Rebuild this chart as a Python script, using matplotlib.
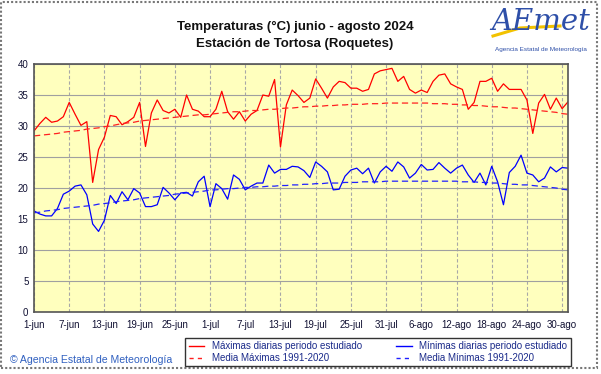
import matplotlib
matplotlib.use('Agg')
import matplotlib.pyplot as plt
import numpy as np
from matplotlib.lines import Line2D
from matplotlib.patches import Rectangle

plt.rcParams['font.family'] = ['Liberation Sans', 'DejaVu Sans']

# daily values 1-jun .. 31-ago 2024
tmax = [29.2, 30.4, 31.4, 30.6, 30.8, 31.5, 33.8, 31.9, 30.1, 30.7,
        20.9, 26.2, 28.2, 31.7, 31.5, 30.2, 30.7, 31.4, 33.8, 26.7,
        32.1, 34.2, 32.5, 32.1, 32.7, 31.4, 35.0, 32.7, 32.4, 31.5,
        31.5, 32.7, 35.6, 32.3, 31.1, 32.3, 30.8, 31.9, 32.5, 35.0,
        34.8, 37.5, 26.6, 33.4, 35.8, 34.9, 33.8, 34.5, 37.6, 36.1,
        34.5, 36.3, 37.2, 37.0, 36.1, 36.1, 35.6, 35.9, 38.4, 38.9,
        39.1, 39.3, 37.2, 38.0, 35.9, 35.3, 35.8, 35.4, 37.2, 38.2,
        38.4, 36.8, 36.3, 35.9, 32.7, 33.8, 37.2, 37.2, 37.7, 35.6,
        36.8, 35.9, 35.9, 35.9, 34.2, 28.8, 33.7, 35.1, 32.7, 34.5,
        32.8, 33.9]
tmin = [16.3, 15.8, 15.5, 15.5, 16.7, 19.0, 19.5, 20.3, 20.5, 18.9,
        14.2, 13.0, 14.8, 18.8, 17.5, 19.4, 18.1, 19.9, 19.2, 17.0,
        17.0, 17.3, 20.1, 19.2, 18.1, 19.2, 19.3, 18.7, 21.0, 21.9,
        17.0, 20.7, 19.9, 18.2, 22.1, 21.4, 19.7, 20.3, 20.8, 20.8,
        23.7, 22.4, 23.0, 23.0, 23.5, 23.4, 22.8, 21.7, 24.2, 23.5,
        22.6, 19.7, 19.8, 21.9, 22.9, 23.2, 22.3, 23.2, 20.8, 22.6,
        23.5, 22.7, 24.2, 23.4, 21.6, 22.4, 23.8, 22.9, 23.0, 24.1,
        23.2, 22.4, 23.2, 23.7, 22.1, 20.9, 22.4, 20.5, 23.5, 21.0,
        17.3, 22.5, 23.5, 25.3, 22.4, 22.1, 21.0, 21.6, 23.4, 22.6,
        23.3, 23.2]
# normals 1991-2020
nmax = [28.4, 28.5, 28.6, 28.7, 28.8, 29.0, 29.1, 29.2, 29.3, 29.5,
        29.6, 29.7, 29.9, 30.0, 30.2, 30.4, 30.5, 30.6, 30.8, 30.9,
        31.0, 31.1, 31.2, 31.3, 31.4, 31.5, 31.6, 31.7, 31.8, 31.8,
        31.9, 32.0, 32.1, 32.2, 32.3, 32.3, 32.4, 32.5, 32.5, 32.6,
        32.7, 32.7, 32.8, 32.9, 32.9, 33.0, 33.1, 33.1, 33.2, 33.2,
        33.3, 33.3, 33.4, 33.4, 33.5, 33.5, 33.5, 33.6, 33.6, 33.6,
        33.7, 33.7, 33.7, 33.7, 33.7, 33.7, 33.7, 33.7, 33.6, 33.6,
        33.6, 33.5, 33.5, 33.4, 33.4, 33.3, 33.3, 33.2, 33.1, 33.1,
        33.0, 32.9, 32.9, 32.8, 32.7, 32.6, 32.5, 32.4, 32.3, 32.2,
        32.0, 31.9]
nmin = [16.0, 16.1, 16.3, 16.4, 16.5, 16.7, 16.8, 16.9, 17.0, 17.1,
        17.2, 17.4, 17.5, 17.6, 17.8, 17.9, 18.0, 18.1, 18.3, 18.4,
        18.5, 18.6, 18.7, 18.8, 19.0, 19.1, 19.2, 19.3, 19.4, 19.5,
        19.7, 19.7, 19.8, 19.9, 19.9, 20.0, 20.1, 20.1, 20.2, 20.2,
        20.3, 20.3, 20.4, 20.4, 20.5, 20.5, 20.6, 20.6, 20.7, 20.7,
        20.8, 20.8, 20.8, 20.9, 20.9, 20.9, 21.0, 21.0, 21.0, 21.0,
        21.1, 21.1, 21.1, 21.1, 21.1, 21.1, 21.1, 21.1, 21.1, 21.1,
        21.1, 21.1, 21.1, 21.0, 21.0, 21.0, 20.9, 20.9, 20.8, 20.8,
        20.7, 20.6, 20.6, 20.5, 20.5, 20.4, 20.3, 20.2, 20.1, 20.0,
        19.8, 19.7]
xlabels = ['1-jun', '7-jun', '13-jun', '19-jun', '25-jun', '1-jul', '7-jul', '13-jul',
           '19-jul', '25-jul', '31-jul', '6-ago', '12-ago', '18-ago', '24-ago', '30-ago']

days = np.arange(len(tmax))

fig = plt.figure(figsize=(6.01, 3.74), dpi=100)
ax = fig.add_axes([34/601, 1-312/374, 534/601, 248/374])
ax.set_facecolor('#FFFFBE')

ax.plot(days, tmax, color='#FF0000', lw=0.9)
ax.plot(days, tmin, color='#0000FF', lw=0.9)
ax.plot(days, nmax, color='#FF2020', lw=0.9, ls=(0, (5, 3)))
ax.plot(days, nmin, color='#2020FF', lw=0.9, ls=(0, (5, 3)))

ax.set_xlim(0, len(tmax) - 1)
ax.set_ylim(0, 40)
ax.set_yticks(np.arange(0, 41, 5))
ax.set_xticks(np.arange(0, len(tmax), 6))
ax.set_xticklabels(xlabels)
ax.tick_params(length=0, labelsize=7, pad=6, colors='#111133')
ax.tick_params(axis='y', pad=4)
ax.xaxis.grid(True, color='#A8A8A8', ls=(0, (3, 2)), lw=0.8)
ax.yaxis.grid(True, color='#A0A0A0', ls='-', lw=0.8)
ax.set_axisbelow(True)
for s in ax.spines.values():
    s.set_color('#555555')
    s.set_linewidth(1.2)

# titles
fig.text(295/601, 1-27/374, 'Temperaturas (°C) junio - agosto 2024', ha='center', va='center',
         fontsize=9.5, fontweight='bold', color='#111111')
fig.text(295/601, 1-44/374, 'Estación de Tortosa (Roquetes)', ha='center', va='center',
         fontsize=9.5, fontweight='bold', color='#111111')

# aemet logo (rough)
fig.lines.append(Line2D([493/601, 520/601, 560/601], [1-36/374, 1-28/374, 1-26/374],
                        transform=fig.transFigure, color='#F2C200', lw=2.2))
fig.text(541/601, 1-22/374, 'AEmet', ha='center', va='center', fontsize=21,
         style='italic', color='#2E4FA8', family='DejaVu Serif')
fig.text(541/601, 1-49/374, 'Agencia Estatal de Meteorología', ha='center', va='center',
         fontsize=4.6, color='#2E4FA8')

fig.text(10/601, 1-360/374, '© Agencia Estatal de Meteorología', ha='left', va='center',
         fontsize=7.6, color='#3060C0')

# legend
handles = [Line2D([], [], color='#FF0000', lw=1),
           Line2D([], [], color='#FF2020', lw=1, ls=(0, (3, 3))),
           Line2D([], [], color='#0000FF', lw=1),
           Line2D([], [], color='#2020FF', lw=1, ls=(0, (3, 3)))]
names = ['Máximas diarias periodo estudiado', 'Media Máximas 1991-2020',
         'Mínimas diarias periodo estudiado', 'Media Mínimas 1991-2020']
leg = fig.legend(handles, names, ncol=2, loc='center', bbox_to_anchor=(378/601, 1-352/374),
                 fontsize=7, frameon=True, fancybox=False, handlelength=1.6,
                 handletextpad=0.8, columnspacing=3.5, labelspacing=0.2, borderpad=0.35)
leg.get_frame().set_edgecolor('#000000')
leg.get_frame().set_linewidth(1)
for t in leg.get_texts():
    t.set_color('#1A2A8A')

# outer frame
fig.patches.append(Rectangle((1/601, 1-368/374), 596/601, 366/374, transform=fig.transFigure,
                             fill=False, edgecolor='#777777', lw=1.5, ls=(0, (1, 1))))

fig.savefig('out.png', dpi=100)
